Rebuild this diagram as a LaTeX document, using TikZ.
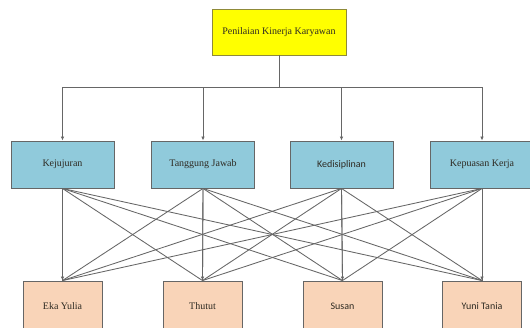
\documentclass[tikz,border=0pt]{standalone}
\usepackage{fontspec}
\setmainfont{Liberation Serif}
\newfontfamily\calib{Carlito}
\usetikzlibrary{arrows.meta}
\definecolor{linegray}{HTML}{666666}
\definecolor{boxborder}{HTML}{666666}
\definecolor{txt}{HTML}{2E2A22}
\definecolor{topfill}{HTML}{FFFF00}
\definecolor{midfill}{HTML}{90CADB}
\definecolor{botfill}{HTML}{F9D4B8}
\tikzset{
  boxbase/.style={draw=boxborder, line width=0.9pt, text=txt, inner sep=0pt, font=\fontsize{10}{11}\selectfont},
  topbox/.style={boxbase, fill=topfill, minimum width=134pt, minimum height=46pt, draw=olive!60!gray},
  midbox/.style={boxbase, fill=midfill, minimum width=103pt, minimum height=47pt},
  botbox/.style={boxbase, fill=botfill, minimum width=79pt, minimum height=50pt},
  conn/.style={draw=linegray, line width=0.85pt},
  arr/.style={conn, -{Latex[length=4pt,width=3.5pt]}}
}
\begin{document}
\begin{tikzpicture}[x=1pt,y=-1pt]
\useasboundingbox (0,0) rectangle (530,327);
\clip (0,0) rectangle (530,327);
\fill[white] (0,0) rectangle (530,327);
\node[topbox] (top) at (279,32) {Penilaian Kinerja Karyawan};
\node[midbox] (m1) at (62.5,164.5) {Kejujuran};
\node[midbox] (m2) at (203,164.5) {Tanggung Jawab};
\node[midbox] (m3) at (341.5,164.5) {\calib Kedisiplinan};
\node[midbox] (m4) at (482,164.5) {Kepuasan Kerja};
\node[botbox] (b1) at (62.5,306) {Eka Yulia};
\node[botbox] (b2) at (202.5,306) {Thutut};
\node[botbox] (b3) at (342.5,306) {\calib Susan};
\node[botbox] (b4) at (482,306) {\calib Yuni Tania};
\coordinate (hy) at (0,87);
\draw[conn] (top.south) -- (top.south |- hy);
\draw[conn] (m1.north |- hy) -- (m4.north |- hy);
\foreach \m in {m1,m2,m3,m4}{
  \draw[arr] (\m.north |- hy) -- (\m.north);
}
\foreach \m in {m1,m2,m3,m4}{
  \foreach \b in {b1,b2,b3,b4}{
    \draw[conn] (\m.south) -- (\b.north);
  }
}
\foreach \i in {1,2,3,4}{
  \draw[arr] (m\i.south) -- (b\i.north);
}
\end{tikzpicture}
\end{document}
